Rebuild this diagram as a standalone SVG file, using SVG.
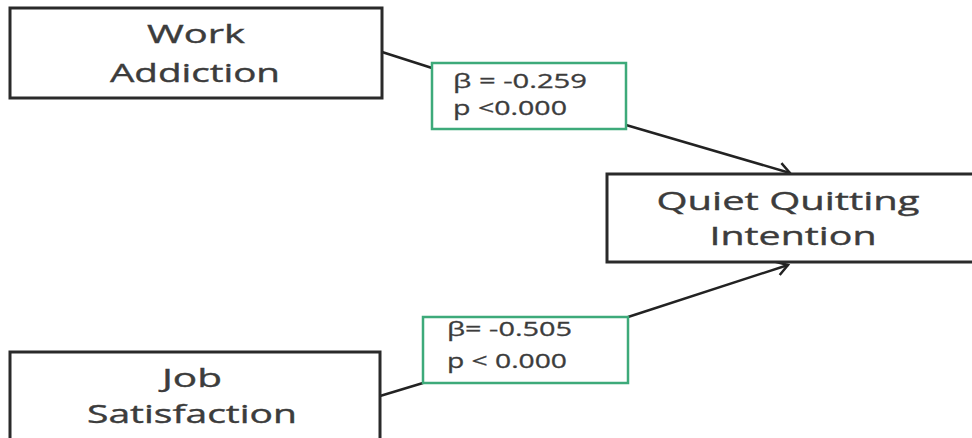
<svg xmlns="http://www.w3.org/2000/svg" width="972" height="438" viewBox="0 0 972 438">
<style>
.box{fill:#fff;stroke:#2a2a2a;stroke-width:3}
.stat{fill:#fff;stroke:#3daa7a;stroke-width:2.5}
.lbl{font-family:"Open Sans","Liberation Sans",sans-serif;font-size:26px;fill:#3c3c3c;text-anchor:middle;stroke:#3c3c3c;stroke-width:0.4}
.st{font-family:"Open Sans","Liberation Sans",sans-serif;font-size:20px;fill:#3c3c3c;stroke:#3c3c3c;stroke-width:0.3}
.con{stroke:#222;stroke-width:2.5;fill:none}
</style>
<defs>
<marker id="arr" markerWidth="16" markerHeight="16" refX="13" refY="8" orient="auto" markerUnits="userSpaceOnUse">
<path d="M2,1 L13,8 L2,15" fill="none" stroke="#222" stroke-width="2.5"/>
</marker>
</defs>
<rect width="972" height="438" fill="#fff"/>
<g id="connectors">
<line class="con" x1="382" y1="52" x2="432" y2="68"/>
<line class="con" x1="626" y1="125" x2="790" y2="173" marker-end="url(#arr)"/>
<line class="con" x1="380" y1="396" x2="423" y2="383"/>
<line class="con" x1="628" y1="317" x2="788" y2="265" marker-end="url(#arr)"/>
</g>
<g id="work-addiction">
<rect class="box" x="10" y="8" width="372" height="90"/>
<text class="lbl" x="196" y="43" textLength="98" lengthAdjust="spacingAndGlyphs">Work</text>
<text class="lbl" x="195" y="82" textLength="170" lengthAdjust="spacingAndGlyphs">Addiction</text>
</g>
<g id="stat1">
<rect class="stat" x="432" y="63" width="194" height="66"/>
<text class="st" x="453" y="88" textLength="134" lengthAdjust="spacingAndGlyphs">β = -0.259</text>
<text class="st" x="453" y="115" textLength="114" lengthAdjust="spacingAndGlyphs">p &lt;0.000</text>
</g>
<g id="quiet-quitting">
<rect class="box" x="607" y="174" width="380" height="88"/>
<text class="lbl" x="788" y="210" textLength="263" lengthAdjust="spacingAndGlyphs">Quiet Quitting</text>
<text class="lbl" x="793" y="245" textLength="167" lengthAdjust="spacingAndGlyphs">Intention</text>
</g>
<g id="stat2">
<rect class="stat" x="423" y="317" width="205" height="66"/>
<text class="st" x="447" y="336" textLength="125" lengthAdjust="spacingAndGlyphs">β= -0.505</text>
<text class="st" x="447" y="368" textLength="120" lengthAdjust="spacingAndGlyphs">p &lt; 0.000</text>
</g>
<g id="job-satisfaction">
<rect class="box" x="10" y="352" width="370" height="100"/>
<text class="lbl" x="192" y="387" textLength="60" lengthAdjust="spacingAndGlyphs">Job</text>
<text class="lbl" x="192" y="423" textLength="210" lengthAdjust="spacingAndGlyphs">Satisfaction</text>
</g>
</svg>
